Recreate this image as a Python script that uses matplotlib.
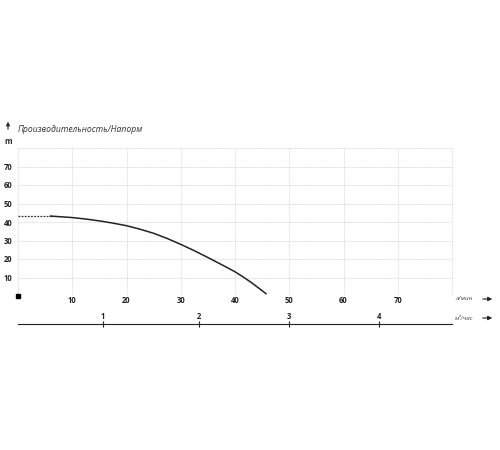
import matplotlib
matplotlib.use("Agg")
import matplotlib.pyplot as plt
import matplotlib.patches as mpatches

# data (flow in l/min, head in m)
flow_dashed = [0, 6]
head_dashed = [43.2, 43.2]
flow = [6, 10, 12.5, 15, 17.5, 20, 22.5, 25, 27.5, 30, 32.5, 35, 37.5, 40, 41.5, 43, 44.5, 45.7]
head = [43.2, 42.4, 41.6, 40.6, 39.4, 38.0, 36.1, 33.9, 31.1, 27.9, 24.5, 20.8, 17.0, 13.1, 10.3, 7.3, 4.0, 1.3]

x_ticks = [10, 20, 30, 40, 50, 60, 70]
y_ticks = [10, 20, 30, 40, 50, 60, 70]
m3_ticks = [1, 2, 3, 4]
m3_pos = [15.7, 33.4, 50.0, 66.6]   # positions on l/min scale

title = "Производительность/Напорм"
y_unit = "m"
x_unit1 = "л/мин"
x_unit2 = "м³/час"

plt.rcParams['font.family'] = ['Open Sans', 'DejaVu Sans']

W, H = 500, 450
fig = plt.figure(figsize=(5, 4.5), dpi=100)

def fx(px):
    return px / W

def fy(py):
    return 1 - py / H

L, R, T, B = 18, 452, 148, 296
ax = fig.add_axes([fx(L), fy(B), fx(R) - fx(L), fy(T) - fy(B)])
ax.set_xlim(0, 80)
ax.set_ylim(0, 80)
for s in ax.spines.values():
    s.set_visible(False)

# grid
for xv in range(0, 90, 10):
    ax.plot([xv, xv], [1, 80], color='#cfcfcf', lw=0.6, ls=(0, (1, 1)), zorder=1, clip_on=False)
for yv in range(10, 90, 10):
    ax.plot([0, 80], [yv, yv], color='#cfcfcf', lw=0.6, ls=(0, (1, 1)), zorder=1, clip_on=False)

ax.set_xticks(x_ticks)
ax.set_yticks(y_ticks)
ax.set_xticklabels([str(v) for v in x_ticks], fontsize=5.5, fontweight='bold', color='#222')
ax.set_yticklabels([str(v) for v in y_ticks], fontsize=5.5, fontweight='bold', color='#222')
ax.tick_params(axis='both', length=0)
ax.tick_params(axis='y', pad=4)
ax.tick_params(axis='x', pad=0)

# curve
ax.plot(flow_dashed, head_dashed, color='#333', lw=0.9, ls=(0, (1.5, 1)), zorder=3)
ax.plot(flow, head, color='#222', lw=1.1, zorder=3, solid_joinstyle='round')

# origin marker
ax.plot([0], [0], marker='s', color='black', ms=3.5, clip_on=False, zorder=4)

# secondary axis (m3/h)
ax2 = fig.add_axes([fx(L), fy(324), fx(R) - fx(L), 0.0001])
ax2.set_xlim(0, 80)
ax2.set_ylim(0, 1)
for k in ['left', 'right', 'top']:
    ax2.spines[k].set_visible(False)
ax2.spines['bottom'].set_color('#222')
ax2.spines['bottom'].set_linewidth(0.8)
ax2.set_yticks([])
ax2.set_xticks(m3_pos)
ax2.set_xticklabels([str(v) for v in m3_ticks], fontsize=5.5, fontweight='bold', color='#222')
ax2.tick_params(axis='x', bottom=False, labelbottom=False, top=True, labeltop=True,
                direction='inout', length=4, width=0.8, color='#222', pad=0)

# title and units
fig.text(fx(18), fy(129), title, fontsize=6.2, style='italic', color='#333', va='center', ha='left')
fig.add_artist(mpatches.FancyArrowPatch((fx(8), fy(132)), (fx(8), fy(119)),
               transform=fig.transFigure, arrowstyle='-|>', mutation_scale=5, color='#222', lw=0.8))
fig.text(fx(8), fy(142), y_unit, fontsize=5.5, fontweight='bold', color='#222', va='center', ha='center')

fig.text(fx(455), fy(299), x_unit1, fontsize=4.5, style='italic', color='#444', va='center', ha='left')
fig.text(fx(455), fy(318), x_unit2, fontsize=4.5, style='italic', color='#444', va='center', ha='left')
for yy in (299, 318):
    fig.add_artist(mpatches.FancyArrowPatch((fx(480), fy(yy)), (fx(495), fy(yy)),
                   transform=fig.transFigure, arrowstyle='-|>', mutation_scale=6, color='#222', lw=0.8))

fig.savefig('out.png', dpi=100)
